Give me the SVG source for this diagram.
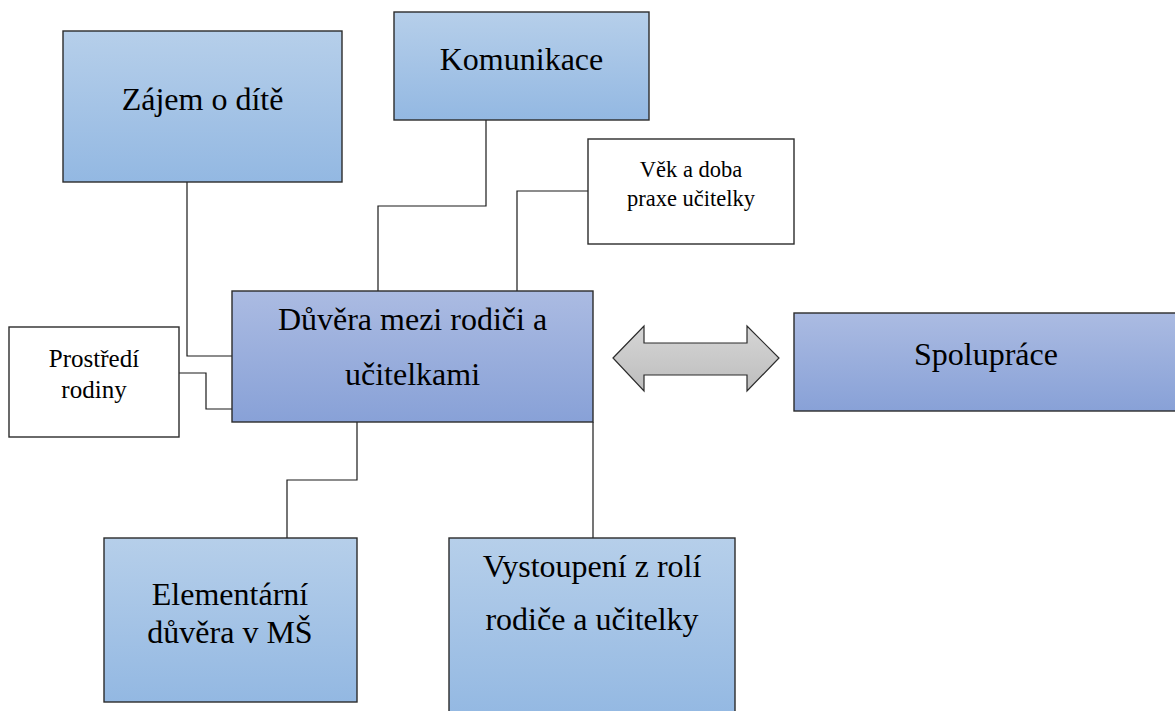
<svg xmlns="http://www.w3.org/2000/svg" width="1175" height="711" viewBox="0 0 1175 711">
<defs>
<linearGradient id="gBlue" x1="0" y1="0" x2="0" y2="1">
<stop offset="0" stop-color="#b6cfea"/>
<stop offset="1" stop-color="#93b8e2"/>
</linearGradient>
<linearGradient id="gPurple" x1="0" y1="0" x2="0" y2="1">
<stop offset="0" stop-color="#abbbe2"/>
<stop offset="1" stop-color="#88a1d7"/>
</linearGradient>
<linearGradient id="gGrey" x1="0" y1="0" x2="0" y2="1">
<stop offset="0" stop-color="#d6d6d6"/>
<stop offset="1" stop-color="#bdbdbd"/>
</linearGradient>
<style>
.box{stroke:#2b2b2b;stroke-width:1.4}
.blue{fill:url(#gBlue)}
.purple{fill:url(#gPurple)}
.white{fill:#ffffff}
.t{font-family:"Liberation Serif","Times New Roman",serif;fill:#000;text-anchor:middle}
.big{font-size:32px}
.small{font-size:22.5px}
.mid{font-size:25px}
.conn{fill:none;stroke:#1a1a1a;stroke-width:1.2}
</style>
</defs>
<rect width="1175" height="711" fill="#ffffff"/>
<g id="connectors">
<polyline class="conn" points="187,182 187,356 232,356"/>
<polyline class="conn" points="179,373 206,373 206,409 232,409"/>
<polyline class="conn" points="486,120 486,206 378,206 378,291"/>
<polyline class="conn" points="588,191 517,191 517,291"/>
<polyline class="conn" points="357,422 357,480 287,480 287,538"/>
<polyline class="conn" points="593,422 593,538"/>
</g>
<g id="zajem">
<rect class="box blue" x="63" y="31" width="279" height="151"/>
<text class="t big" x="202.5" y="110">Zájem o dítě</text>
</g>
<g id="komunikace">
<rect class="box blue" x="394" y="12" width="255" height="108"/>
<text class="t big" x="521.5" y="70">Komunikace</text>
</g>
<g id="vek">
<rect class="box white" x="588" y="139" width="206" height="105"/>
<text class="t small" x="691" y="177">Věk a doba</text>
<text class="t small" x="691" y="206">praxe učitelky</text>
</g>
<g id="prostredi">
<rect class="box white" x="9" y="327" width="170" height="110"/>
<text class="t mid" x="94" y="367">Prostředí</text>
<text class="t mid" x="94" y="398">rodiny</text>
</g>
<g id="duvera">
<rect class="box purple" x="232" y="291" width="361" height="131"/>
<text class="t big" x="412.5" y="330">Důvěra mezi rodiči a</text>
<text class="t big" x="412.5" y="385">učitelkami</text>
</g>
<g id="sipka">
<polygon points="613,358 644,326 644,343 747,343 747,326 779,358 747,391 747,375 644,375 644,391" fill="url(#gGrey)" stroke="#2b2b2b" stroke-width="1.2"/>
</g>
<g id="spoluprace">
<rect class="box purple" x="794" y="313" width="385" height="98"/>
<text class="t big" x="986" y="365">Spolupráce</text>
</g>
<g id="elementarni">
<rect class="box blue" x="104" y="538" width="253" height="164"/>
<text class="t big" x="230" y="605">Elementární</text>
<text class="t big" x="230" y="643">důvěra v MŠ</text>
</g>
<g id="vystoupeni">
<rect class="box blue" x="449" y="538" width="286" height="180"/>
<text class="t big" x="592" y="577">Vystoupení z rolí</text>
<text class="t big" x="592" y="630">rodiče a učitelky</text>
</g>
</svg>
